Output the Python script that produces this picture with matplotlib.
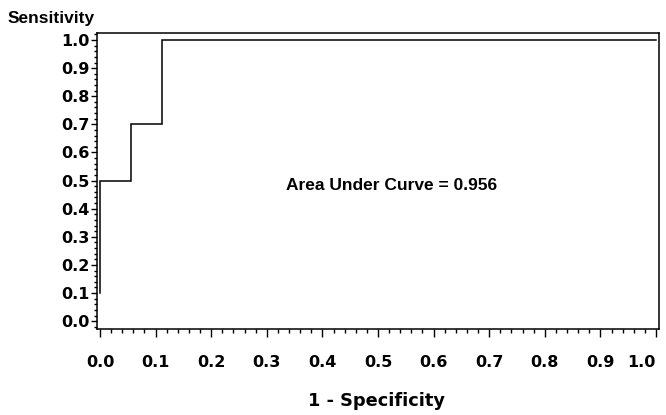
import matplotlib
matplotlib.use("Agg")
import matplotlib.pyplot as plt
from matplotlib.ticker import MultipleLocator

# ROC curve points (1 - specificity, sensitivity)
fpr = [0.0, 0.0, 0.0556, 0.0556, 0.1111, 0.1111, 1.0]
tpr = [0.1, 0.5, 0.5, 0.7, 0.7, 1.0, 1.0]
tick_vals = [0.0, 0.1, 0.2, 0.3, 0.4, 0.5, 0.6, 0.7, 0.8, 0.9, 1.0]
tick_labels = ["0.0", "0.1", "0.2", "0.3", "0.4", "0.5", "0.6", "0.7", "0.8", "0.9", "1.0"]
auc_text = "Area Under Curve = 0.956"
x_label = "1 - Specificity"
y_label = "Sensitivity"

fig = plt.figure(figsize=(6.66, 4.15), dpi=100)
ax = fig.add_axes([97/666, 1-329/415, 562/666, 296/415])

ax.plot(fpr, tpr, color="black", lw=1.1, solid_joinstyle="miter")

ax.set_xlim(-0.0054, 1.0054)
ax.set_ylim(-0.028, 1.025)

ax.set_xticks(tick_vals)
ax.set_xticklabels(tick_labels)
ax.set_yticks(tick_vals)
ax.set_yticklabels(tick_labels)
ax.xaxis.set_minor_locator(MultipleLocator(0.02))
ax.yaxis.set_minor_locator(MultipleLocator(0.02))

for s in ax.spines.values():
    s.set_linewidth(1.1)

ax.tick_params(axis="x", which="major", direction="out", length=5.5, width=1.0, pad=13)
ax.tick_params(axis="x", which="minor", direction="out", length=3, width=1.0)
ax.tick_params(axis="y", which="major", direction="out", length=4.5, width=1.0, pad=1)
ax.tick_params(axis="y", which="minor", direction="out", length=2.5, width=1.0)
for lab in ax.get_xticklabels() + ax.get_yticklabels():
    lab.set_fontfamily("DejaVu Sans")
    lab.set_fontweight("bold")
    lab.set_fontsize(11.5)
ax.get_xticklabels()[-1].set_horizontalalignment("right")

fig.text(392/666, 1-185/415, auc_text, ha="center", va="center",
         family="Liberation Sans", weight="bold", size=12.5)
fig.text(377/666, 1-401/415, x_label, ha="center", va="center",
         family="DejaVu Sans", weight="bold", size=12.8)
fig.text(8/666, 1-19/415, y_label, ha="left", va="center",
         family="Liberation Sans", weight="bold", size=12.5)

fig.savefig("out.png", dpi=100)
